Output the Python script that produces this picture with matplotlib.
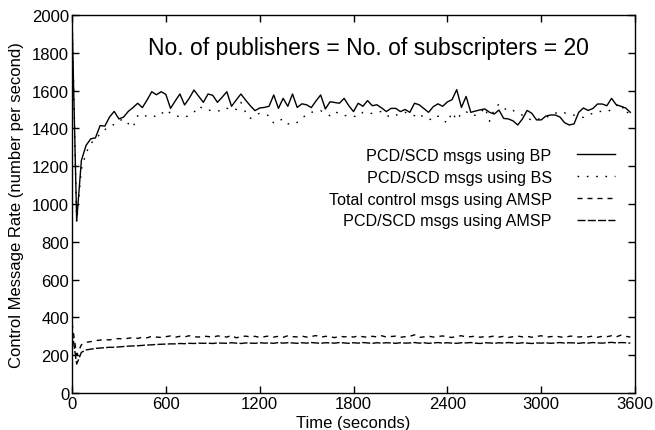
import matplotlib
matplotlib.use("Agg")
import matplotlib.pyplot as plt
import numpy as np

plt.rcParams['font.family'] = ['Liberation Sans', 'DejaVu Sans']

time_s = list(range(0, 3600, 30))

bp = [2000, 910, 1230, 1310, 1345, 1350, 1415, 1412, 1460, 1490,
      1450, 1460, 1490, 1510, 1533, 1510, 1550, 1594, 1578, 1594,
      1580, 1506, 1545, 1582, 1524, 1560, 1603, 1570, 1538, 1582,
      1575, 1538, 1565, 1594, 1517, 1550, 1582, 1550, 1520, 1494,
      1508, 1511, 1517, 1577, 1506, 1559, 1517, 1582, 1511, 1530,
      1525, 1510, 1545, 1577, 1503, 1541, 1537, 1533, 1559, 1520,
      1489, 1533, 1517, 1547, 1520, 1525, 1508, 1489, 1506, 1506,
      1489, 1500, 1485, 1533, 1525, 1505, 1485, 1515, 1530, 1517,
      1540, 1552, 1605, 1511, 1569, 1485, 1492, 1498, 1503, 1485,
      1476, 1497, 1453, 1450, 1440, 1418, 1450, 1495, 1480, 1445,
      1445, 1465, 1471, 1471, 1460, 1430, 1418, 1424, 1485, 1508,
      1495, 1505, 1529, 1529, 1520, 1559, 1525, 1517, 1508, 1485]

bs = [2000, 905, 1185, 1270, 1320, 1344, 1370, 1393, 1414, 1420,
      1440, 1450, 1425, 1405, 1467, 1455, 1470, 1471, 1460, 1475,
      1499, 1480, 1467, 1462, 1458, 1470, 1485, 1517, 1505, 1494,
      1499, 1494, 1490, 1505, 1511, 1500, 1538, 1485, 1453, 1470,
      1480, 1475, 1467, 1427, 1440, 1450, 1425, 1420, 1432, 1450,
      1476, 1485, 1490, 1494, 1480, 1467, 1489, 1478, 1467, 1470,
      1464, 1462, 1485, 1478, 1480, 1485, 1490, 1470, 1458, 1470,
      1476, 1485, 1475, 1467, 1480, 1456, 1450, 1444, 1465, 1444,
      1429, 1485, 1444, 1480, 1490, 1467, 1470, 1480, 1511, 1438,
      1500, 1529, 1510, 1490, 1495, 1480, 1470, 1460, 1441, 1445,
      1455, 1460, 1465, 1480, 1489, 1482, 1476, 1470, 1465, 1458,
      1470, 1480, 1489, 1490, 1488, 1500, 1520, 1533, 1476, 1495]

total_amsp = [370, 200, 255, 268, 272, 277, 280, 283, 281, 286,
              288, 285, 290, 293, 289, 295, 292, 300, 296, 294,
              298, 302, 295, 300, 297, 303, 298, 296, 301, 299,
              295, 302, 300, 296, 305, 292, 298, 301, 297, 300,
              294, 298, 302, 296, 300, 295, 303, 298, 297, 301,
              296, 299, 304, 295, 300, 298, 293, 301, 297, 300,
              296, 302, 298, 295, 300, 297, 303, 296, 299, 301,
              295, 298, 300, 308, 294, 297, 301, 296, 299, 302,
              297, 294, 300, 303, 296, 298, 301, 295, 299, 297,
              302, 296, 300, 294, 298, 301, 297, 300, 295, 299,
              303, 296, 298, 301, 297, 294, 300, 302, 296, 299,
              297, 301, 295, 300, 298, 303, 297, 306, 300, 296]

pcd_amsp = [330, 153, 215, 228, 232, 236, 238, 240, 242, 242,
            244, 246, 248, 249, 250, 252, 254, 255, 257, 258,
            259, 260, 260, 262, 261, 263, 262, 264, 263, 264,
            262, 265, 264, 263, 266, 264, 262, 265, 264, 263,
            266, 264, 265, 263, 267, 264, 266, 265, 263, 266,
            264, 267, 265, 263, 266, 265, 264, 267, 265, 263,
            266, 264, 267, 265, 263, 266, 264, 266, 265, 263,
            266, 264, 265, 267, 264, 266, 263, 265, 267, 264,
            266, 264, 263, 266, 265, 267, 264, 262, 266, 265,
            263, 266, 264, 267, 265, 263, 266, 264, 262, 265,
            264, 266, 263, 265, 267, 264, 266, 265, 263, 266,
            264, 267, 265, 264, 266, 268, 265, 267, 266, 264]

series_labels = ["PCD/SCD msgs using BP", "PCD/SCD msgs using BS",
                 "Total control msgs using AMSP", "PCD/SCD msgs using AMSP"]
x_ticks = [0, 600, 1200, 1800, 2400, 3000, 3600]
y_ticks = [0, 200, 400, 600, 800, 1000, 1200, 1400, 1600, 1800, 2000]

fig = plt.figure(figsize=(6.55, 4.31), dpi=100)
ax = fig.add_axes([0.1099, 0.0858, 0.8596, 0.8771])

l1, = ax.plot(time_s, bp, color='black', lw=1.0, linestyle='-')
l2, = ax.plot(time_s, bs, color='black', lw=1.0, dashes=(1.2, 5.5))
l3, = ax.plot(time_s, total_amsp, color='black', lw=1.0, dashes=(3.6, 3.6))
l4, = ax.plot(time_s, pcd_amsp, color='black', lw=1.0, dashes=(5.8, 1.6))

ax.set_xlim(0, 3600)
ax.set_ylim(0, 2000)
ax.set_xticks(x_ticks)
ax.set_yticks(y_ticks)
ax.tick_params(direction='in', length=5, width=1, top=True, right=True,
               labelsize=12, pad=2)
for s in ax.spines.values():
    s.set_linewidth(1.0)

ax.set_xlabel("Time (seconds)", fontsize=12, labelpad=3)
ax.set_ylabel("Control Message Rate (number per second)", fontsize=12, labelpad=6)

ax.text(0.527, 0.913, "No. of publishers = No. of subscripters = 20",
        transform=ax.transAxes, ha='center', va='center', fontsize=16.5)

leg = ax.legend([l1, l2, l3, l4], series_labels, loc='upper right',
                bbox_to_anchor=(0.975, 0.665), frameon=False, fontsize=11.6,
                markerfirst=False, handlelength=2.35, handletextpad=1.55,
                labelspacing=0.42, borderaxespad=0)
for t in leg.get_texts():
    t.set_ha('right')
    t.set_position((0, 0))

fig.savefig("out.png", dpi=100)
